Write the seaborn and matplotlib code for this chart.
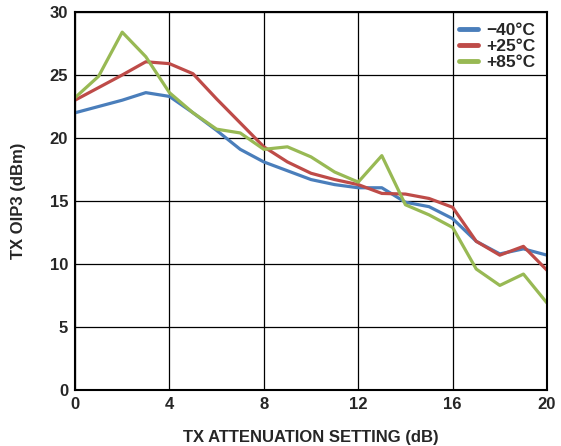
import pandas as pd
import matplotlib
matplotlib.use("Agg")
import matplotlib.pyplot as plt
import seaborn as sns

# Datos.
atenuacion = list(range(21))
oip3_m40 = [22.0, 22.5, 23.0, 23.6, 23.3, 22.0, 20.6, 19.1, 18.1, 17.4, 16.7,
            16.3, 16.05, 16.05, 14.9, 14.55, 13.6, 11.8, 10.8, 11.2, 10.7]
oip3_p25 = [23.0, 24.0, 25.0, 26.05, 25.9, 25.1, 23.1, 21.2, 19.3, 18.1, 17.2,
            16.7, 16.3, 15.6, 15.55, 15.2, 14.5, 11.8, 10.7, 11.4, 9.5]
oip3_p85 = [23.2, 24.9, 28.4, 26.45, 23.6, 22.0, 20.7, 20.4, 19.1, 19.3, 18.5,
            17.3, 16.5, 18.6, 14.7, 13.9, 12.9, 9.6, 8.3, 9.2, 6.9]
series = ["\u221240°C", "+25°C", "+85°C"]
colores = ["#4a7ebb", "#be4b48", "#98b954"]

df = pd.concat([
    pd.DataFrame({"aten": atenuacion, "oip3": vals, "temp": nombre})
    for nombre, vals in zip(series, [oip3_m40, oip3_p25, oip3_p85])
])

sns.set_theme(style="white")
plt.rcParams["font.family"] = ["Liberation Sans", "DejaVu Sans"]
plt.rcParams["font.weight"] = "bold"

fig = plt.figure(figsize=(5.61, 4.46), dpi=100)
ax = fig.add_axes([0.1337, 0.1256, 0.8414, 0.8475])

sns.lineplot(data=df, x="aten", y="oip3", hue="temp", palette=colores,
             hue_order=series, linewidth=2.3, ax=ax)

ax.set_xlim(0, 20)
ax.set_ylim(0, 30)
ax.set_xticks(range(0, 21, 4))
ax.set_yticks(range(0, 31, 5))
ax.grid(True, color="black", linewidth=0.9)
ax.set_axisbelow(True)
for sp in ax.spines.values():
    sp.set_color("black")
    sp.set_linewidth(1.5)
ax.tick_params(axis="both", labelsize=12, length=0, pad=5)
for lbl in ax.get_xticklabels() + ax.get_yticklabels():
    lbl.set_fontweight("bold")

ax.set_xlabel("TX ATTENUATION SETTING (dB)", fontsize=12, fontweight="bold", labelpad=13)
ax.set_ylabel("TX OIP3 (dBm)", fontsize=12, fontweight="bold", labelpad=17)

leg = ax.legend(loc="upper right", frameon=False, fontsize=12.5, handlelength=1.1,
                handletextpad=0.5, labelspacing=0.05, borderaxespad=0.25)
for t in leg.get_texts():
    t.set_fontweight("bold")
for h in leg.get_lines():
    h.set_linewidth(3.5)

fig.savefig("out.png", dpi=100)
